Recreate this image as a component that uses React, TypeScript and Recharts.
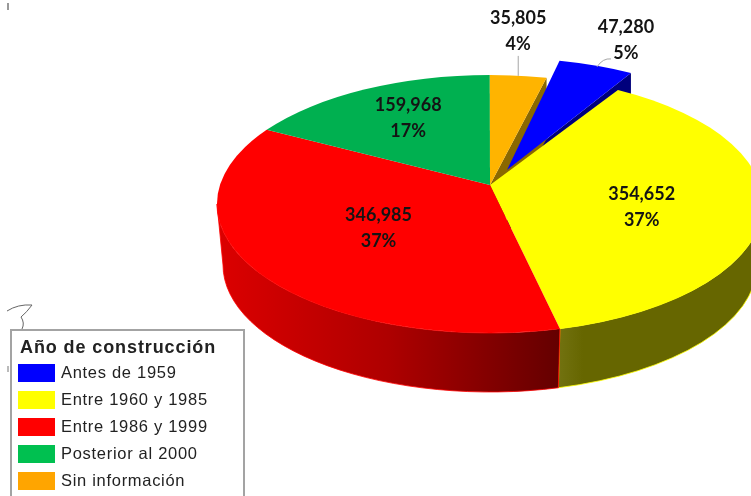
import { Legend, Pie, PieChart } from "recharts";

const categories = ["Antes de 1959", "Entre 1960 y 1985", "Entre 1986 y 1999", "Posterior al 2000", "Sin información"];
const viviendas = [47280, 354652, 346985, 159968, 35805];
const percentLabels = ["5%", "37%", "37%", "17%", "4%"];
const colors = ["#0000ff", "#ffff00", "#ff0000", "#00b050", "#ffb400"];
const legendColors = ["#0000ff", "#ffff00", "#ff0000", "#00c050", "#ffa500"];
const wallFills = ["none", "url(#yellowWall)", "url(#redWall)", "none", "none"];
const cutFaces = ["#00007c", "none", "none", "none", "#8a6800"];

const data = categories.map((name, i) => ({ name, value: viviendas[i], fill: colors[i] }));

// drawing of the tilted disc
const CX = 490;
const CY = 204;
const RX = 273;
const RY = 129;
const APEX_LIFT = 19;
const DEPTH = 61;
const RX_BOTTOM = 267;
const RY_BOTTOM = 127;
// pulled-out slice: the rim and the apex do not move quite the same in the original
const EXPLODE_RIM = [[13, -17], [0, 0], [0, 0], [0, 0], [0, 0]];
const EXPLODE_APEX = [[17, -15], [0, 0], [0, 0], [0, 0], [0, 0]];

// label placement: [share of radius, dx, dy]
const labelSpots = [
  [1, 31, -45],
  [0.563, 0, -8.5],
  [0.512, 0, -16],
  [0.59, 0, -20],
  [1, -4, -45],
];

const rad = (d: number) => (d * Math.PI) / 180;

// clockwise from 12 o'clock, with the perspective squeeze of the original
const warp = (recAngle: number) => {
  const t = 90 - recAngle;
  return t - 7 * Math.sin(rad(t));
};
const rim = (w: number) => [CX + RX * Math.sin(rad(w)), CY - RY * Math.cos(rad(w))];
const rimBottom = (w: number) => [CX + RX_BOTTOM * Math.sin(rad(w)), CY + DEPTH - RY_BOTTOM * Math.cos(rad(w))];

function TopFace(props: any) {
  const { startAngle, endAngle, fill, index } = props;
  const [ox, oy] = EXPLODE_RIM[index];
  const [ax, ay] = EXPLODE_APEX[index];
  const w1 = warp(startAngle);
  const w2 = warp(endAngle);
  const [x1, y1] = rim(w1);
  const [x2, y2] = rim(w2);
  const large = w2 - w1 > 180 ? 1 : 0;
  const d = `M${CX + ax},${CY - APEX_LIFT + ay} L${x1 + ox},${y1 + oy} A${RX},${RY} 0 ${large} 1 ${x2 + ox},${y2 + oy} Z`;
  return <path d={d} fill={fill} />;
}

function SideFace(props: any) {
  const { startAngle, endAngle, index } = props;
  const [ox, oy] = EXPLODE_RIM[index];
  const [ax, ay] = EXPLODE_APEX[index];
  const w1 = Math.max(warp(startAngle), 90);
  const w2 = Math.min(warp(endAngle), 270);
  const parts = [];
  if (cutFaces[index] !== "none") {
    const [ex, ey] = rim(warp(endAngle));
    const apexY = CY - APEX_LIFT + ay;
    const d = `M${CX + ax},${apexY} L${ex + ox},${ey + oy} L${ex + ox},${ey + oy + DEPTH} L${CX + ax},${apexY + DEPTH} Z`;
    parts.push(<path key="cut" d={d} fill={cutFaces[index]} />);
  }
  if (wallFills[index] !== "none" && w2 > w1) {
    const [x1, y1] = rim(w1);
    const [x2, y2] = rim(w2);
    const [bx1, by1] = rimBottom(w1);
    const [bx2, by2] = rimBottom(w2);
    const d = `M${x1},${y1} A${RX},${RY} 0 0 1 ${x2},${y2} L${bx2},${by2} A${RX_BOTTOM},${RY_BOTTOM} 0 0 0 ${bx1},${by1} Z`;
    parts.push(<path key="wall" d={d} fill={wallFills[index]} stroke={colors[index]} strokeWidth={0.8} />);
  }
  return <g>{parts}</g>;
}

function SliceLabel(props: any) {
  const { midAngle, value, index } = props;
  const [k, dx, dy] = labelSpots[index];
  const w = 90 - midAngle;
  const x = CX + RX * Math.sin(rad(w)) * k + dx;
  const y = CY - RY * Math.cos(rad(w)) * k + dy;
  return (
    <g>
      {index === 4 && <path d={`M${x},${y + 25} V${y + 45}`} stroke="#a6a6a6" fill="none" />}
      {index === 0 && (
        <path d={`M${x - 29},${y + 27} Q${x - 23},${y + 18} ${x - 15},${y + 19}`} stroke="#a6a6a6" fill="none" />
      )}
      <text textAnchor="middle" fontFamily="Lato" fontWeight={700} fontSize={18} fill="#141414">
        <tspan x={x} y={y - 7}>{value.toLocaleString("en-US")}</tspan>
        <tspan x={x} y={y + 19}>{percentLabels[index]}</tspan>
      </text>
    </g>
  );
}

function LegendBox() {
  return (
    <div
      style={{
        width: 235,
        height: 170,
        boxSizing: "border-box",
        border: "2px solid #a3a3a3",
        background: "#fff",
        fontFamily: "Liberation Sans",
        color: "#222",
        paddingLeft: 6,
      }}
    >
      <div style={{ fontWeight: 700, fontSize: 18, letterSpacing: 0.9, height: 28, lineHeight: "32px", paddingLeft: 2 }}>
        Año de construcción
      </div>
      {categories.map((c, i) => (
        <div key={c} style={{ display: "flex", alignItems: "center", height: 27 }}>
          <span style={{ width: 37, height: 18, background: legendColors[i], marginRight: 6 }} />
          <span style={{ fontSize: 16.5, letterSpacing: 0.7 }}>{c}</span>
        </div>
      ))}
    </div>
  );
}

export default function App() {
  return (
    <div style={{ position: "absolute", left: 0, top: 0, width: 751, height: 496, overflow: "hidden", background: "#fff", filter: "blur(0.6px)" }}>
      <PieChart width={751} height={496} margin={{ top: 0, right: 0, bottom: 0, left: 0 }}>
        <defs>
          <linearGradient id="redWall" x1="0" y1="0" x2="1" y2="0">
            <stop offset="0" stopColor="#dc0000" />
            <stop offset="0.5" stopColor="#ae0000" />
            <stop offset="1" stopColor="#640000" />
          </linearGradient>
          <linearGradient id="yellowWall" x1="0" y1="0" x2="1" y2="0">
            <stop offset="0" stopColor="#727210" />
            <stop offset="0.12" stopColor="#666600" />
            <stop offset="1" stopColor="#666600" />
          </linearGradient>
        </defs>
        <Pie
          data={data}
          dataKey="value"
          nameKey="name"
          cx={CX}
          cy={CY}
          outerRadius={RX}
          startAngle={76.4}
          endAngle={-283.6}
          legendType="none"
          isAnimationActive={false}
          label={false}
          labelLine={false}
          shape={SideFace}
          inactiveShape={SideFace}
          activeShape={SideFace}
        />
        <Pie
          data={data}
          dataKey="value"
          nameKey="name"
          cx={CX}
          cy={CY}
          outerRadius={RX}
          startAngle={76.4}
          endAngle={-283.6}
          legendType="none"
          isAnimationActive={false}
          label={SliceLabel}
          labelLine={false}
          shape={TopFace}
          inactiveShape={TopFace}
          activeShape={TopFace}
        />
        <Legend
          content={() => <LegendBox />}
          wrapperStyle={{ position: "absolute", left: 10, top: 329, width: 235, bottom: "auto" }}
        />
      </PieChart>
      <svg width={60} height={380} style={{ position: "absolute", left: 0, top: 0, pointerEvents: "none" }}>
        <path
          d="M7,311 Q18,304 32,305 Q27,312 21,317 Q25,323 22,329"
          fill="none"
          stroke="#666"
          strokeWidth={1}
        />
        <path d="M8,3 V10" stroke="#999" strokeWidth={2} />
        <path d="M8,366 V372" stroke="#777" strokeWidth={1} />
      </svg>
    </div>
  );
}
